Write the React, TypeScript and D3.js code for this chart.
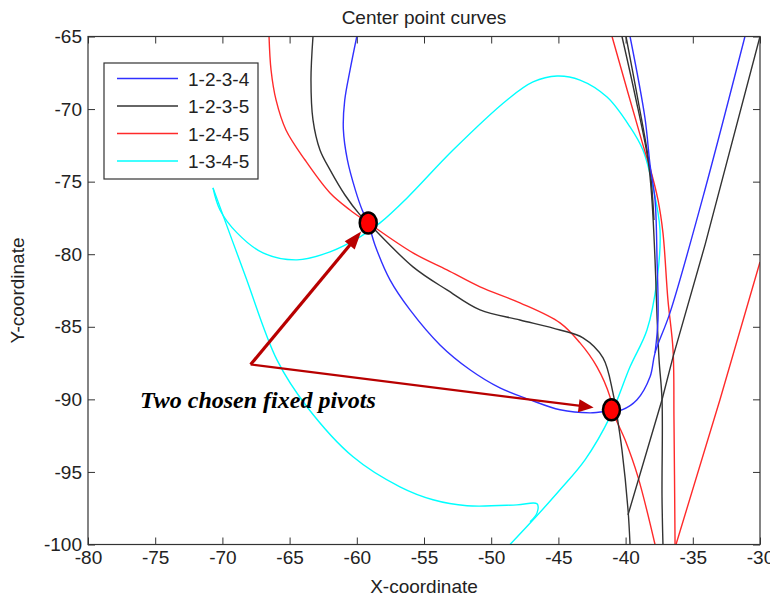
import React, { useRef, useEffect } from "react";
import * as d3 from "d3";

type Pt = [number, number];

// axis ticks
const xTicks = [-80, -75, -70, -65, -60, -55, -50, -45, -40, -35, -30];
const yTicks = [-100, -95, -90, -85, -80, -75, -70, -65];

// legend
const legendLabels = ["1-2-3-4", "1-2-3-5", "1-2-4-5", "1-3-4-5"];
const legendColors = ["#3030ff", "#333333", "#ff2a2a", "#00ffff"];

// 1-2-3-4 (blue)
const blueLoop: Pt[] = [
  [-60.0, -65.0], [-60.5, -67.3], [-60.9, -69.4], [-61.0, -71.4], [-60.7, -73.5],
  [-60.1, -75.6], [-59.6, -76.95], [-59.15, -77.85], [-58.65, -79.36], [-57.53, -81.77],
  [-56.04, -83.84], [-53.81, -86.25], [-51.58, -87.96], [-49.35, -89.21], [-47.11, -90.03],
  [-44.88, -90.72], [-42.65, -90.93], [-41.09, -90.79], [-40.27, -90.72], [-39.15, -90.03],
  [-38.18, -88.45], [-37.81, -86.8], [-36.7, -84.04], [-34.24, -76.05], [-31.12, -65.0],
];
const blueBranch: Pt[] = [
  [-39.67, -65], [-38.56, -70.61], [-38.18, -73.85], [-37.81, -76.26],
  [-37.66, -80.39], [-37.59, -84.53], [-37.81, -86.8],
];

// 1-2-3-5 (black)
const blackLoop: Pt[] = [
  [-63.26, -65], [-63.41, -68.0], [-63.26, -70.75], [-62.74, -72.82], [-61.99, -74.19],
  [-60.88, -75.92], [-59.76, -77.29], [-59.15, -77.85], [-55.82, -80.87], [-53.29, -82.46],
  [-50.83, -83.84], [-47.86, -84.53], [-44.88, -85.22], [-43.17, -85.76], [-41.68, -87.14],
  [-40.94, -89.55], [-40.71, -90.72], [-40.27, -93.48], [-39.82, -97.61], [-39.67, -100],
];
const blackVertical: Pt[] = [
  [-40.27, -65], [-39.3, -69.03], [-38.33, -73.51], [-38.04, -76.26], [-37.81, -80.39],
  [-37.66, -84.32], [-37.51, -87.28], [-37.29, -90.03], [-37.29, -96.71], [-37.22, -100],
];
const blackBranch: Pt[] = [[-39.97, -65], [-39.08, -69.37], [-38.18, -74.19], [-37.89, -77.64]];
const blackDiagonal: Pt[] = [
  [-30, -65], [-34.09, -79.36], [-36.47, -87.07], [-37.29, -90.03], [-39.82, -97.96],
];

// 1-2-4-5 (red)
const redLoop: Pt[] = [
  [-66.53, -65], [-66.38, -67.31], [-66.01, -69.37], [-65.27, -71.44], [-63.85, -73.51],
  [-61.99, -75.78], [-60.51, -76.95], [-59.15, -77.84], [-55.82, -79.91], [-53.29, -81.08],
  [-50.83, -82.25], [-47.86, -83.35], [-44.88, -84.73], [-43.39, -86.11], [-42.13, -87.76],
  [-41.16, -89.83], [-40.94, -90.86], [-40.04, -92.79], [-39.08, -95.34], [-37.81, -100],
];
const redVertical: Pt[] = [
  [-41.01, -65], [-38.71, -72.47], [-38.18, -74.06], [-37.59, -76.26], [-37.22, -78.53],
  [-36.85, -83.15], [-36.47, -86.59], [-36.4, -91.42], [-36.32, -100],
];
const redReturn: Pt[] = [[-36.25, -100], [-32.98, -90.03], [-30, -80.53]];

// 1-3-4-5 (cyan)
const cyanArc: Pt[] = [
  [-70.7, -75.43], [-70.18, -76.95], [-68.91, -78.53], [-66.98, -79.91], [-64.45, -80.39],
  [-61.99, -79.84], [-59.76, -78.81], [-58.27, -77.84], [-56.26, -76.12], [-52.84, -72.82],
  [-48.82, -69.37], [-46.89, -68.13], [-45.1, -67.72], [-43.39, -68.0], [-41.38, -69.17],
  [-39.67, -71.23], [-38.71, -72.82], [-37.96, -75.37], [-37.44, -78.33], [-37.66, -81.77],
  [-38.41, -85.22], [-39.67, -87.76], [-41.16, -91.21], [-43.02, -94.17], [-44.88, -96.23],
  [-46.74, -98.16], [-48.6, -100],
];
const cyanTail: Pt[] = [
  [-70.7, -75.43], [-68.32, -81.43], [-65.94, -87.28], [-63.71, -90.51], [-60.28, -93.96],
  [-56.79, -96.03], [-54.33, -96.92], [-51.8, -97.33], [-48.08, -97.27], [-46.59, -97.2],
  [-46.59, -97.82], [-47.11, -98.44],
];

// annotation
const pivots: Pt[] = [[-59.15, -77.85], [-41.05, -90.72]];
const arrowStart: Pt = [-67.9, -87.6];
const noteAnchor: Pt = [-76.13, -90.59];
const noteText = "Two chosen fixed pivots";

const curves: { pts: Pt[]; color: string; smooth: boolean }[] = [
  { pts: cyanArc, color: legendColors[3], smooth: true },
  { pts: cyanTail, color: legendColors[3], smooth: true },
  { pts: redLoop, color: legendColors[2], smooth: true },
  { pts: redVertical, color: legendColors[2], smooth: true },
  { pts: redReturn, color: legendColors[2], smooth: false },
  { pts: blackLoop, color: legendColors[1], smooth: true },
  { pts: blackVertical, color: legendColors[1], smooth: true },
  { pts: blackBranch, color: legendColors[1], smooth: true },
  { pts: blackDiagonal, color: legendColors[1], smooth: false },
  { pts: blueLoop, color: legendColors[0], smooth: true },
  { pts: blueBranch, color: legendColors[0], smooth: true },
];

const FONT = "'Liberation Sans', Arial, sans-serif";
const TEXT = "#222";

const App = () => {
  const container = useRef<SVGSVGElement | null>(null);
  const width = 770;
  const height = 600;
  const left = 88, right = 760, top = 36.5, bottom = 544.5;

  useEffect(() => {
    const svg = d3.select(container.current);
    svg.selectAll("*").remove();

    const x = d3.scaleLinear().domain([-80, -30]).range([left, right]);
    const y = d3.scaleLinear().domain([-100, -65]).range([bottom, top]);

    svg.append("rect").attr("width", width).attr("height", height).attr("fill", "#fff");

    svg.append("defs").append("clipPath").attr("id", "plot")
      .append("rect").attr("x", left).attr("y", top)
      .attr("width", right - left).attr("height", bottom - top);

    // axes (ticks inward on all sides), plain hyphen minus like the original
    const fmt = (d: any) => String(d);
    const styleAxis = (g: any) => {
      g.select(".domain").remove();
      g.selectAll("line").attr("stroke", "#333");
      g.selectAll("text").attr("font-family", FONT).attr("font-size", 19).attr("fill", TEXT);
    };
    svg.append("g").attr("transform", `translate(0,${bottom})`)
      .call(d3.axisBottom(x).tickValues(xTicks).tickFormat(fmt).tickSizeInner(-7).tickSizeOuter(0).tickPadding(6))
      .call(styleAxis);
    svg.append("g").attr("transform", `translate(0,${top})`)
      .call(d3.axisTop(x).tickValues(xTicks).tickSizeInner(-7).tickSizeOuter(0).tickFormat(() => ""))
      .call(styleAxis);
    svg.append("g").attr("transform", `translate(${left},0)`)
      .call(d3.axisLeft(y).tickValues(yTicks).tickFormat(fmt).tickSizeInner(-7).tickSizeOuter(0).tickPadding(6))
      .call(styleAxis);
    svg.append("g").attr("transform", `translate(${right},0)`)
      .call(d3.axisRight(y).tickValues(yTicks).tickSizeInner(-7).tickSizeOuter(0).tickFormat(() => ""))
      .call(styleAxis);

    // curves
    const plot = svg.append("g").attr("clip-path", "url(#plot)");
    curves.forEach((c) => {
      const line = d3.line<Pt>()
        .x((d) => x(d[0]))
        .y((d) => y(d[1]))
        .curve(c.smooth ? d3.curveCatmullRom.alpha(0.5) : d3.curveLinear);
      plot.append("path").attr("d", line(c.pts))
        .attr("fill", "none").attr("stroke", c.color).attr("stroke-width", 1.4);
    });

    // frame
    svg.append("rect").attr("x", left).attr("y", top)
      .attr("width", right - left).attr("height", bottom - top)
      .attr("fill", "none").attr("stroke", "#333").attr("stroke-width", 1.2);

    // title and labels
    svg.append("text").attr("x", (left + right) / 2).attr("y", 24)
      .attr("text-anchor", "middle").attr("font-family", FONT).attr("font-size", 19)
      .attr("fill", TEXT).text("Center point curves");
    svg.append("text").attr("x", (left + right) / 2).attr("y", 593)
      .attr("text-anchor", "middle").attr("font-family", FONT).attr("font-size", 19)
      .attr("fill", TEXT).text("X-coordinate");
    svg.append("text").attr("transform", `translate(24,${(top + bottom) / 2}) rotate(-90)`)
      .attr("text-anchor", "middle").attr("font-family", FONT).attr("font-size", 19)
      .attr("fill", TEXT).text("Y-coordinate");

    // legend
    const legend = svg.append("g").attr("transform", "translate(104,63)");
    legend.append("rect").attr("width", 154).attr("height", 116)
      .attr("fill", "#fff").attr("stroke", "#333").attr("stroke-width", 1.2);
    legendLabels.forEach((lab, i) => {
      const ly = 15.5 + i * 27.5;
      legend.append("line").attr("x1", 13).attr("x2", 74).attr("y1", ly).attr("y2", ly)
        .attr("stroke", legendColors[i]).attr("stroke-width", 1.6);
      legend.append("text").attr("x", 84).attr("y", ly + 7)
        .attr("font-family", FONT).attr("font-size", 19).attr("fill", TEXT).text(lab);
    });

    // arrows to pivots
    const sx = x(arrowStart[0]), sy = y(arrowStart[1]);
    const arrowColor = "#b80000";
    pivots.forEach((p, i) => {
      const px = x(p[0]), py = y(p[1]);
      const dx = px - sx, dy = py - sy;
      const len = Math.hypot(dx, dy);
      const ux = dx / len, uy = dy / len;
      const gap = i === 0 ? 11 : 18;
      const head = i === 0 ? 18 : 15;
      const half = 6.5;
      const tx = px - ux * gap, ty = py - uy * gap;
      const bx = tx - ux * head, by = ty - uy * head;
      svg.append("line").attr("x1", sx).attr("y1", sy).attr("x2", bx + ux * 2).attr("y2", by + uy * 2)
        .attr("stroke", arrowColor).attr("stroke-width", i === 0 ? 3.2 : 2.2);
      svg.append("polygon")
        .attr("points", `${tx},${ty} ${bx - uy * half},${by + ux * half} ${bx + uy * half},${by - ux * half}`)
        .attr("fill", arrowColor);
    });

    // pivot markers
    svg.selectAll(".pivot").data(pivots).enter().append("ellipse")
      .attr("class", "pivot")
      .attr("cx", (d) => x(d[0])).attr("cy", (d) => y(d[1]))
      .attr("rx", 8.5).attr("ry", 10.5)
      .attr("fill", "#ff0000").attr("stroke", "#000").attr("stroke-width", 2.5);

    svg.append("text").attr("x", x(noteAnchor[0])).attr("y", y(noteAnchor[1]))
      .attr("font-family", "'Liberation Serif', 'Times New Roman', serif")
      .attr("font-size", 24).attr("font-weight", "bold").attr("font-style", "italic")
      .attr("fill", "#000").text(noteText);
  }, []);

  return (
    <svg
      ref={container}
      width={width}
      height={height}
      style={{ position: "absolute", left: 0, top: 0 }}
    />
  );
};

export default App;
